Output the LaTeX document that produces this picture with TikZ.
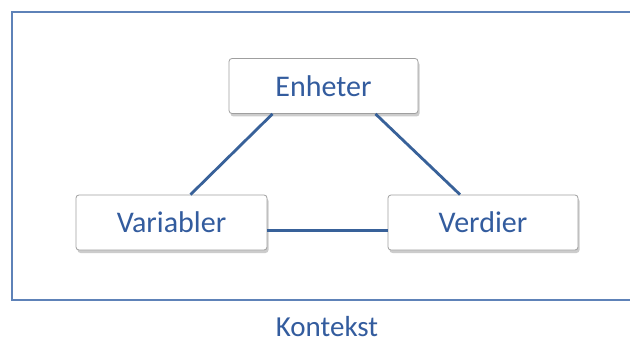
\documentclass[tikz,border=0pt]{standalone}
\usepackage{fontspec}
\setmainfont{Carlito}
\usepackage{tikz}
\usetikzlibrary{shadows,positioning}
\usepackage{xcolor}
\definecolor{framblue}{rgb}{0.37, 0.51, 0.72}
\definecolor{linkblue}{rgb}{0.22, 0.38, 0.60}
\definecolor{textblue}{rgb}{0.20, 0.36, 0.62}

\begin{document}
\begin{tikzpicture}[x=1pt,y=-1pt,
    concept/.style={draw=gray!75,line width=0.8pt,fill=white,rounded corners=3pt,minimum width=189pt,minimum height=55pt,
        text=textblue,font=\fontsize{30}{34}\selectfont,
        drop shadow={shadow xshift=1.5pt,shadow yshift=-3pt,opacity=0.4,fill=gray}},
    link/.style={line width=2.8pt,linkblue}]
    \clip (0,0) rectangle (630,345);
    \fill[white] (0,0) rectangle (630,345);

    % Context frame
    \draw[line width=2pt,framblue] (12,12) rectangle (660,300);
    \node[text=textblue,font=\fontsize{29}{33}\selectfont] (kontekst) at (327,327) {Kontekst};

    % The three concepts
    \node[concept] (enheter) at (323.5,86) {Enheter};
    \node[concept,minimum width=191pt] (variabler) at (171.5,222.5) {Variabler};
    \node[concept,minimum width=190pt] (verdier) at (483,222.5) {Verdier};

    % Connections
    \draw[link] ([xshift=-51pt]enheter.south) -- ([xshift=19pt]variabler.north);
    \draw[link] ([xshift=52pt]enheter.south) -- ([xshift=-23pt]verdier.north);
    \draw[link] ([yshift=-8pt]variabler.east) -- ([yshift=-8pt]verdier.west);
\end{tikzpicture}
\end{document}
